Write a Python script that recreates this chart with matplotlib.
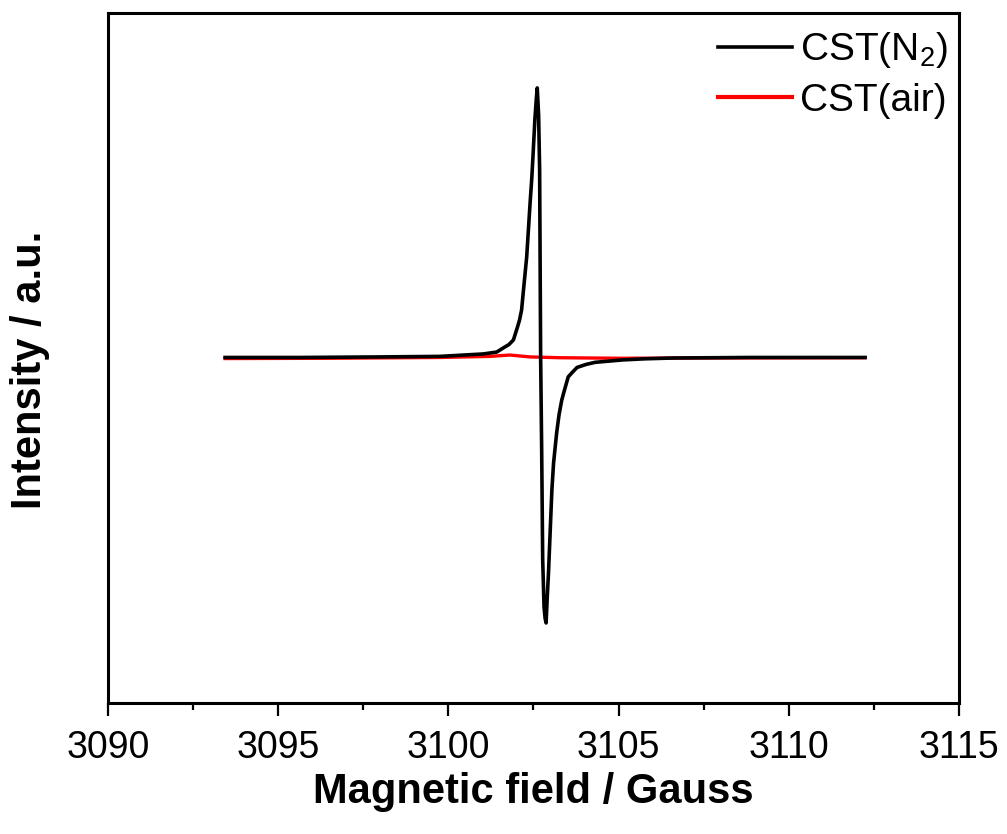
import matplotlib
matplotlib.use('Agg')
import matplotlib.pyplot as plt
from matplotlib.ticker import MultipleLocator

plt.rcParams['font.family'] = ['Liberation Sans', 'DejaVu Sans']
plt.rcParams['mathtext.fontset'] = 'custom'
plt.rcParams['mathtext.rm'] = 'Liberation Sans'
plt.rcParams['mathtext.it'] = 'Liberation Sans'

# data (field in Gauss, intensity in arbitrary units)
field_n2 = [3093.44, 3095.64, 3097.99, 3099.75, 3101.02, 3101.42, 3101.52,
            3101.66, 3101.78, 3101.91, 3102.02, 3102.09, 3102.15, 3102.22,
            3102.30, 3102.35, 3102.40, 3102.45, 3102.49, 3102.54, 3102.58,
            3102.61, 3102.65, 3102.68, 3102.71, 3102.74, 3102.77, 3102.81,
            3102.84, 3102.87, 3102.90, 3102.94, 3103.04, 3103.09, 3103.18,
            3103.25, 3103.33, 3103.41, 3103.52, 3103.65, 3103.78, 3104.04,
            3104.31, 3105.13, 3105.78, 3106.60, 3108.86, 3112.24]
int_n2 = [0.0, 0.0, 0.002, 0.004, 0.013, 0.020, 0.028,
          0.039, 0.048, 0.065, 0.109, 0.139, 0.176, 0.269,
          0.373, 0.473, 0.573, 0.666, 0.759, 0.882, 0.955,
          1.0, 0.90, 0.696, 0.0, -0.343, -0.751, -0.926,
          -0.967, -0.985, -0.900, -0.800, -0.492, -0.391, -0.280,
          -0.213, -0.158, -0.121, -0.072, -0.054, -0.037, -0.026,
          -0.018, -0.009, -0.005, -0.002, 0.0, 0.0]

field_air = [3093.44, 3096.52, 3099.75, 3101.22, 3101.81, 3102.40,
             3103.28, 3105.04, 3107.39, 3112.24]
int_air = [-0.004, -0.003, 0.0, 0.004, 0.009, 0.002,
           -0.001, -0.003, -0.002, -0.001]

labels = ['CST(N$_2$)', 'CST(air)']

fig = plt.figure(figsize=(10.07, 8.34), dpi=100)
ax = fig.add_axes([108 / 1007, 1 - 703 / 834, 851 / 1007, 690 / 834])

l1, = ax.plot(field_n2, int_n2, color='black', lw=2.6, zorder=3, label=labels[0])
l2, = ax.plot(field_air, int_air, color='red', lw=2.4, zorder=2, label=labels[1])

ax.set_xlim(3090, 3115)
ax.set_ylim(-1.282, 1.278)
ax.xaxis.set_major_locator(MultipleLocator(5))
ax.xaxis.set_minor_locator(MultipleLocator(2.5))
ax.tick_params(axis='x', which='major', direction='out', length=9.5, width=1.6,
               labelsize=27, pad=10)
ax.tick_params(axis='x', which='minor', direction='out', length=5, width=1.6)
ax.set_yticks([])
for s in ax.spines.values():
    s.set_linewidth(2.2)

ax.set_xlabel('Magnetic field / Gauss', fontsize=30, fontweight='bold')
ax.xaxis.set_label_coords(0.5, -0.1)
ax.set_ylabel('Intensity / a.u.', fontsize=30, fontweight='bold')
ax.yaxis.set_label_coords(-0.068, 0.483)

leg = ax.legend(handles=[l1, l2], loc='upper right', bbox_to_anchor=(1.007, 1.0),
                frameon=False, fontsize=28, handlelength=1.9, handletextpad=0.2,
                borderaxespad=0.0, borderpad=0.45, labelspacing=0.32)
leg.get_lines()[1].set_linewidth(3.0)

fig.savefig('out.png', dpi=100)
